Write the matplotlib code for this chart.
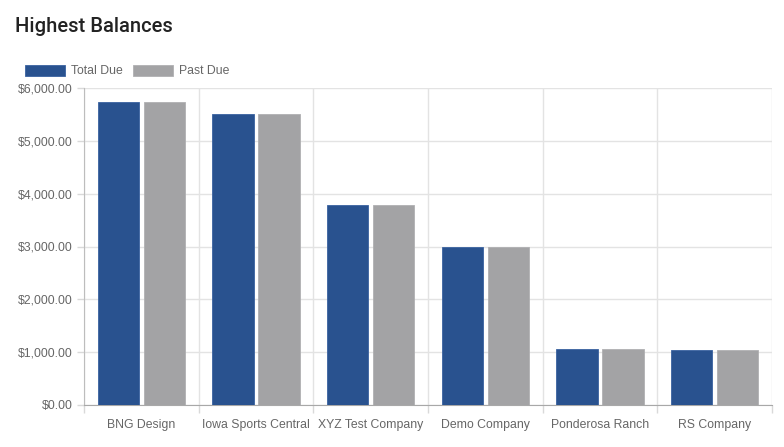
import matplotlib.pyplot as plt
import numpy as np
from matplotlib.ticker import FuncFormatter, FixedLocator

companies = ["BNG Design", "Iowa Sports Central", "XYZ Test Company",
             "Demo Company", "Ponderosa Ranch", "RS Company"]
total_due = [5735, 5505, 3790, 2995, 1065, 1045]
past_due = [5735, 5505, 3790, 2995, 1065, 1045]

BLUE = "#29528f"
GRAY = "#a3a3a5"
TXT = "#666666"

plt.rcParams["font.family"] = ["Liberation Sans", "DejaVu Sans"]

fig = plt.figure(figsize=(7.84, 4.47), dpi=100)
ax = fig.add_axes([84 / 784, 1 - 405 / 447, 688 / 784, 317 / 447])

x = np.arange(len(companies))
slot = 0.8 / 2
bw = slot * 0.9
ax.bar(x - slot / 2, total_due, bw, color=BLUE, edgecolor="#3a62a0", linewidth=0.6,
       label="Total Due", zorder=3)
ax.bar(x + slot / 2, past_due, bw, color=GRAY, edgecolor="#b0b0b2", linewidth=0.6,
       label="Past Due", zorder=3)

ax.set_xlim(-0.5, len(companies) - 0.5)
ax.set_ylim(0, 6000)
ax.set_yticks(range(0, 6001, 1000))
ax.yaxis.set_major_formatter(FuncFormatter(lambda v, p: f"${v:,.2f}"))
ax.set_xticks(x)
ax.set_xticklabels(companies)
ax.xaxis.set_minor_locator(FixedLocator(np.arange(-0.5, len(companies), 1.0)))

ax.tick_params(axis="x", which="major", length=0, pad=10, labelsize=8.8, labelcolor=TXT)
ax.tick_params(axis="x", which="minor", length=6, color="#d9d9d9", width=1)
ax.tick_params(axis="y", length=5, color="#d9d9d9", width=1, pad=3,
               labelsize=8.8, labelcolor=TXT)

ax.grid(axis="y", color="#e3e3e3", linewidth=1, zorder=0)
ax.grid(axis="x", which="minor", color="#e3e3e3", linewidth=1, zorder=0)

for side in ["top", "right"]:
    ax.spines[side].set_visible(False)
ax.spines["left"].set_color("#bdbdbd")
ax.spines["bottom"].set_color("#a8a8a8")

fig.text(15 / 784, 1 - 26 / 447, "Highest Balances", fontsize=14.5, color="#222222",
         family=["Roboto", "DejaVu Sans"], weight="medium", va="center", ha="left")

fig.legend(loc="center left", bbox_to_anchor=(25 / 784, 1 - 71 / 447), ncol=2,
           frameon=False, fontsize=8.8, labelcolor=TXT, handlelength=3.3,
           handleheight=1.0, handletextpad=0.5, columnspacing=0.8,
           borderaxespad=0, borderpad=0)

fig.savefig("out.png", dpi=100)
